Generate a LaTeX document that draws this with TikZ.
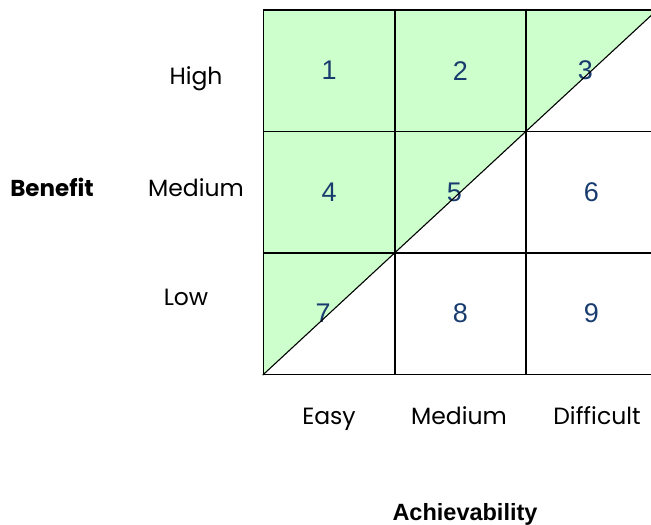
\documentclass[tikz,border=0pt]{standalone}
\usepackage{fontspec}
\setmainfont{Liberation Sans}
\newfontfamily\gothic{Poppins}
\usetikzlibrary{backgrounds}
\definecolor{cellgreen}{HTML}{CCFFCC}
\definecolor{numblue}{RGB}{25,60,110}

\begin{document}
\begin{tikzpicture}[
    x=1pt, y=-1pt,
    cell/.style={draw, line width=1.6pt, minimum width=131.2pt, minimum height=121.4pt,
                 inner sep=0pt, text=numblue, font=\fontsize{27}{27}\selectfont},
    lvl/.style={anchor=base, font=\gothic\fontsize{23.5}{23.5}\selectfont},
    axis/.style={anchor=base, font=\bfseries\fontsize{23.5}{23.5}\selectfont},
    shade/.style={fill=cellgreen},
    diag/.style={line width=1.1pt}
]
\useasboundingbox (0,0) rectangle (651,525);

% grid of cells
\node[cell] (c1) at (329.1,70.7)  {1};
\node[cell] (c2) at (460.3,70.7)  {2};
\node[cell] (c3) at (591.5,70.7)  {\hspace*{-12pt}3};
\node[cell] (c4) at (329.1,192.1) {4};
\node[cell] (c5) at (460.3,192.1) {\hspace*{-12pt}5};
\node[cell] (c6) at (591.5,192.1) {6};
\node[cell] (c7) at (329.1,313.6) {\hspace*{-12pt}7};
\node[cell] (c8) at (460.3,313.6) {8};
\node[cell] (c9) at (591.5,313.6) {9};

\begin{scope}[on background layer]
\fill[shade] (c1.north west) rectangle (c2.south east);
\fill[shade] (c4.north west) rectangle (c4.south east);
\fill[shade] (c3.south west) -- (c3.north west) -- (c3.north east) -- cycle;
\fill[shade] (c5.south west) -- (c5.north west) -- (c5.north east) -- cycle;
\fill[shade] (c7.south west) -- (c7.north west) -- (c7.north east) -- cycle;
\end{scope}
\draw[diag] (c7.south west) -- (c3.north east);

% benefit levels
\node[lvl] (high) at (196,84.5)  {High};
\node[lvl] (bmed) at (196,196.7) {Medium};
\node[lvl] (low)  at (186,305)   {Low};
\node[lvl, font=\gothic\bfseries\fontsize{23}{23}\selectfont] (benefit) at (52,196.7) {Benefit};

% achievability levels
\node[lvl] (easy) at (329,424) {Easy};
\node[lvl] (amed) at (459,424) {Medium};
\node[lvl] (diff) at (597,424) {Difficult};
\node[axis] (achv) at (465,520) {Achievability};
\end{tikzpicture}
\end{document}
